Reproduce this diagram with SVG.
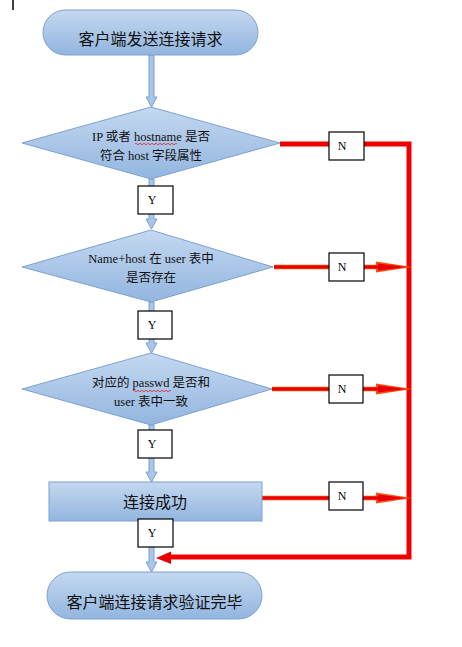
<svg xmlns="http://www.w3.org/2000/svg" width="462" height="647" viewBox="0 0 462 647">
<defs>
<linearGradient id="g" x1="0" y1="0" x2="0" y2="1">
<stop offset="0" stop-color="#c4d8f0"/>
<stop offset="1" stop-color="#92b5df"/>
</linearGradient>
<style>
.shape{fill:url(#g);stroke:#7da2cf;stroke-width:1}
.cjk{font-family:"Noto Sans CJK SC","Noto Sans",sans-serif;font-size:16px;fill:#111;text-anchor:middle}
.dt{font-family:"Liberation Serif","Noto Sans CJK SC",serif;font-size:12.5px;fill:#111;text-anchor:middle}
.lbl{fill:#fff;stroke:#000;stroke-width:1.2}
.lt{font-family:"Liberation Serif",serif;font-size:12px;fill:#000;text-anchor:middle}
.blue{fill:#a9c5e8;stroke:#7b9fcf;stroke-width:1}
.red{fill:none;stroke:#ee0000;stroke-width:5}
.oline{stroke:#ff5000;stroke-width:4.5;fill:none}
.rline{stroke:#e80000;stroke-width:3;fill:none}
.ohead{fill:#ff4a10}
.rhead{fill:#e80000}
.sq{fill:none;stroke:#e02020;stroke-width:0.8}
</style>
</defs>
<rect width="462" height="647" fill="#fff"/>
<line x1="13" y1="0" x2="13" y2="10" stroke="#000" stroke-width="1.5"/>
<g id="connectors">
<path class="blue" d="M149,55 L149,97 L146,97 L151.5,107 L157,97 L154,97 L154,55 Z"/>
<path class="blue" d="M149,179 L149,219 L146,219 L151.5,229 L157,219 L154,219 L154,179 Z"/>
<path class="blue" d="M149,302 L149,343 L146,343 L151.5,353 L157,343 L154,343 L154,302 Z"/>
<path class="blue" d="M149,425 L149,472 L146,472 L151.5,482 L157,472 L154,472 L154,425 Z"/>
<path class="blue" d="M149,521 L149,562 L146,562 L151.5,572 L157,562 L154,562 L154,521 Z"/>
<polyline class="red" points="280,144 409,144 409,557 168,557"/>
<polygon class="rhead" points="156,558 171,551.5 171,564"/>
<line class="oline" x1="274" y1="267" x2="378" y2="267"/>
<polygon class="ohead" points="376,261.5 412,267 376,272.5"/>
<line class="rline" x1="274" y1="267" x2="378" y2="267"/>
<polygon class="rhead" points="378,263.5 406,267 378,270.5"/>
<line class="oline" x1="272" y1="389" x2="378" y2="389"/>
<polygon class="ohead" points="376,383.5 412,389 376,394.5"/>
<line class="rline" x1="272" y1="389" x2="378" y2="389"/>
<polygon class="rhead" points="378,385.5 406,389 378,392.5"/>
<line class="oline" x1="262" y1="498" x2="378" y2="498"/>
<polygon class="ohead" points="376,492.5 412,498 376,503.5"/>
<line class="rline" x1="262" y1="498" x2="378" y2="498"/>
<polygon class="rhead" points="378,494.5 406,498 378,501.5"/>
</g>
<g id="start">
<rect class="shape" x="43" y="10" width="215" height="45" rx="22.5"/>
<text class="cjk" x="150.5" y="45">客户端发送连接请求</text>
</g>
<g id="d1">
<polygon class="shape" points="151,107 280,143 151,179 22,143"/>
<text class="dt" x="151" y="141">IP 或者 hostname 是否</text>
<text class="dt" x="151" y="160">符合 host 字段属性</text>
<path class="sq" d="M135,144 q1,-1.5 2,0 t2,0 t2,0 t2,0 t2,0 t2,0 t2,0 t2,0 t2,0 t2,0 t2,0 t2,0 t2,0 t2,0 t2,0 t2,0 t2,0 t2,0 t2,0 t2,0 t2,0"/>
</g>
<g id="d2">
<polygon class="shape" points="151,230 273,267 151,302 22,267"/>
<text class="dt" x="151" y="263">Name+host 在 user 表中</text>
<text class="dt" x="151" y="282">是否存在</text>
</g>
<g id="d3">
<polygon class="shape" points="151,353 272,389 151,425 22,389"/>
<text class="dt" x="151" y="387">对应的 passwd 是否和</text>
<text class="dt" x="151" y="406">user 表中一致</text>
<path class="sq" d="M133,391 q1,-1.5 2,0 t2,0 t2,0 t2,0 t2,0 t2,0 t2,0 t2,0 t2,0 t2,0 t2,0 t2,0 t2,0 t2,0 t2,0 t2,0 t2,0 t2,0 t2,0"/>
</g>
<g id="ok">
<rect class="shape" x="49" y="482" width="213" height="39"/>
<text class="cjk" x="155" y="508">连接成功</text>
</g>
<g id="end">
<rect class="shape" x="47" y="572" width="215" height="47" rx="23.5"/>
<text class="cjk" x="154.5" y="608">客户端连接请求验证完毕</text>
</g>
<g id="labels">
<rect class="lbl" x="138" y="186" width="35" height="28"/><text class="lt" x="152" y="204">Y</text>
<rect class="lbl" x="138" y="311" width="34" height="28"/><text class="lt" x="152" y="329">Y</text>
<rect class="lbl" x="138" y="430" width="34" height="28"/><text class="lt" x="152" y="448">Y</text>
<rect class="lbl" x="138" y="519" width="35" height="28"/><text class="lt" x="152" y="537">Y</text>
<rect class="lbl" x="329" y="132" width="35" height="28"/><text class="lt" x="342" y="150">N</text>
<rect class="lbl" x="329" y="253" width="35" height="28"/><text class="lt" x="342" y="271">N</text>
<rect class="lbl" x="329" y="375" width="34" height="28"/><text class="lt" x="342" y="393">N</text>
<rect class="lbl" x="329" y="482" width="34" height="28"/><text class="lt" x="342" y="500">N</text>
</g>
</svg>
